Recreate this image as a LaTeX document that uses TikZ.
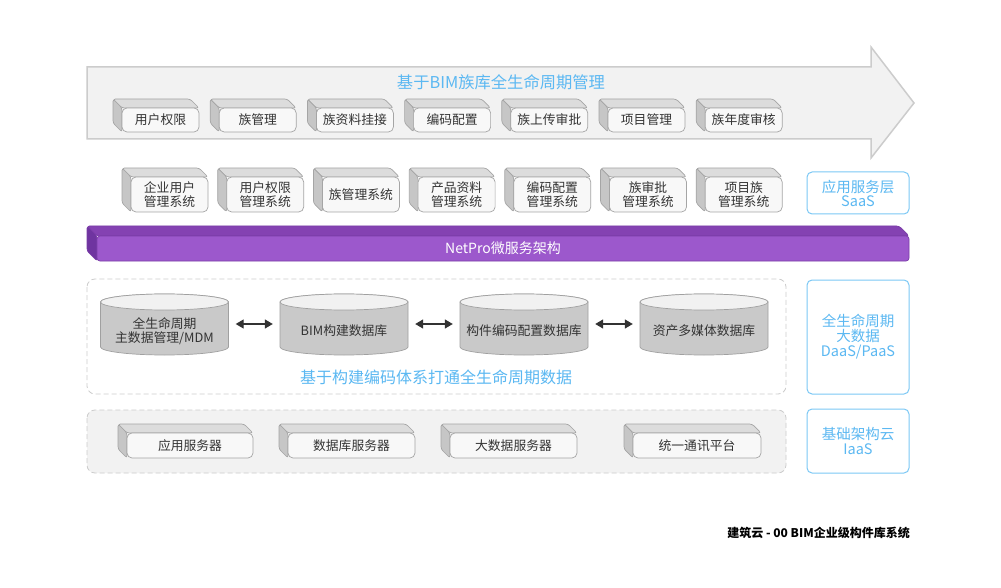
\documentclass[tikz,border=0pt]{standalone}
\usepackage{fontspec}
\setmainfont{Noto Sans CJK SC}
\usetikzlibrary{arrows.meta}
\definecolor{lblue}{HTML}{5BB8F2}
\definecolor{lborder}{HTML}{7CC8F5}
\definecolor{txtgray}{HTML}{333333}
\definecolor{edgegray}{HTML}{A5A5A5}
\definecolor{topgray}{HTML}{DCDCDC}
\definecolor{sidegray}{HTML}{C6C6C6}
\definecolor{frontgray}{HTML}{F8F8F8}
\definecolor{panelgray}{HTML}{F2F2F2}
\definecolor{panelline}{HTML}{CCCCCC}
\definecolor{purfront}{HTML}{9C58CC}
\definecolor{purtop}{HTML}{8442B2}
\definecolor{purside}{HTML}{6F34A0}
\definecolor{puredge}{HTML}{7A3DA8}
\definecolor{cylgray}{HTML}{C9C9C9}
\definecolor{cyltopc}{HTML}{F1F1F1}
\definecolor{cyledge}{HTML}{A0A0A0}
\newcommand{\cubebox}[7]{%
  \filldraw[topface] (#2-#6,#3-#6) -- (#4-#6,#3-#6) -- (#4,#3) -- (#2,#3) -- cycle;
  \filldraw[sideface] (#2-#6,#3-#6) -- (#2,#3) -- (#2,#5) -- (#2-#6,#5-#6) -- cycle;
  \node[frontbox, minimum width={(#4-#2)*1pt}, minimum height={(#5-#3)*1pt}] (#1) at ({(#2+#4)/2},{(#3+#5)/2}) {#7};
}
\newcommand{\dbcyl}[3]{%
  \filldraw[cylbody] (#2-64,302) -- (#2-64,347) arc[start angle=180,end angle=360,x radius=64pt,y radius=8pt] -- (#2+64,302) arc[start angle=0,end angle=180,x radius=64pt,y radius=8pt] -- cycle;
  \filldraw[cyltop] (#2,302) ellipse[x radius=64pt,y radius=8pt];
  \node[cyltext] (#1) at (#2,331) {#3};
}
\begin{document}
\begin{tikzpicture}[x=1pt,y=-1pt,
  topface/.style={fill=topgray, draw=edgegray, line width=0.7pt, rounded corners=2.5pt},
  sideface/.style={fill=sidegray, draw=edgegray, line width=0.7pt, rounded corners=2.5pt},
  frontbox/.style={fill=frontgray, draw=edgegray, line width=0.7pt, rounded corners=5pt, inner sep=0pt, align=center, text=txtgray, font=\fontsize{12.8}{14}\selectfont},
  cylbody/.style={fill=cylgray, draw=cyledge, line width=0.7pt},
  cyltop/.style={fill=cyltopc, draw=cyledge, line width=0.7pt},
  cyltext/.style={minimum width=128pt, inner sep=0pt, align=center, text=txtgray, font=\fontsize{12.8}{14}\selectfont},
  layerbox/.style={draw=lborder, line width=1pt, fill=white, rounded corners=5pt, align=center, text=lblue, inner sep=0pt},
  bluetext/.style={text=lblue, inner sep=0pt},
  dblarrow/.style={{Triangle[length=8pt,width=9pt]}-{Triangle[length=8pt,width=9pt]}, line width=1.3pt, draw=txtgray},
  panel/.style={draw=panelline, line width=0.8pt, dash pattern=on 5pt off 3pt, rounded corners=8pt}
]
\useasboundingbox[fill=white] (0,0) rectangle (1001,588);

% big arrow
\filldraw[fill=panelgray, draw=panelline, line width=1.5pt] (87,67) -- (871,67) -- (871,47) -- (914,103) -- (871,158) -- (871,139) -- (87,139) -- cycle;
\node[bluetext, font=\fontsize{16.3}{18}\selectfont] (title) at (501,82) {基于BIM族库全生命周期管理};

% row 1
\cubebox{a1}{122}{108}{199}{132}{9}{用户权限}
\cubebox{a2}{219.2}{108}{296.2}{132}{9}{族管理}
\cubebox{a3}{316.4}{108}{393.4}{132}{9}{族资料挂接}
\cubebox{a4}{413.6}{108}{490.6}{132}{9}{编码配置}
\cubebox{a5}{510.8}{108}{587.8}{132}{9}{族上传审批}
\cubebox{a6}{608}{108}{685}{132}{9}{项目管理}
\cubebox{a7}{705.2}{108}{782.2}{132}{9}{族年度审核}

% row 2
\cubebox{b1}{131}{177}{208}{212}{9}{企业用户\\管理系统}
\cubebox{b2}{226.7}{177}{303.7}{212}{9}{用户权限\\管理系统}
\cubebox{b3}{322.4}{177}{399.4}{212}{9}{族管理系统}
\cubebox{b4}{418.1}{177}{495.1}{212}{9}{产品资料\\管理系统}
\cubebox{b5}{513.8}{177}{590.8}{212}{9}{编码配置\\管理系统}
\cubebox{b6}{609.5}{177}{686.5}{212}{9}{族审批\\管理系统}
\cubebox{b7}{705.2}{177}{782.2}{212}{9}{项目族\\管理系统}
\node[layerbox, minimum width=102pt, minimum height=42pt, font=\fontsize{14.5}{14}\selectfont] (saas) at (858,193) {应用服务层\\SaaS};

% purple bar
\filldraw[fill=purtop, draw=puredge, line width=0.7pt, rounded corners=2.5pt] (87,226) -- (899,226) -- (909,236) -- (97,236) -- cycle;
\filldraw[fill=purside, draw=puredge, line width=0.7pt, rounded corners=2.5pt] (87,226) -- (97,236) -- (97,261) -- (87,251) -- cycle;
\node[fill=purfront, draw=puredge, line width=0.7pt, rounded corners=3pt, minimum width=812pt, minimum height=25pt, inner sep=0pt, text=white, font=\fontsize{14}{16}\selectfont] (bar) at (503,248.5) {NetPro微服务架构};

% data layer
\draw[panel, fill=white] (87,279) rectangle (786,394);
\dbcyl{c1}{164.5}{全生命周期\\主数据管理/MDM}
\dbcyl{c2}{344}{BIM构建数据库}
\dbcyl{c3}{524}{构件编码配置数据库}
\dbcyl{c4}{704}{资产多媒体数据库}
\draw[dblarrow] ([xshift=7pt,yshift=7pt]c1.east) -- ([xshift=-7pt,yshift=7pt]c2.west);
\draw[dblarrow] ([xshift=7pt,yshift=7pt]c2.east) -- ([xshift=-7pt,yshift=7pt]c3.west);
\draw[dblarrow] ([xshift=7pt,yshift=7pt]c3.east) -- ([xshift=-7pt,yshift=7pt]c4.west);
\node[bluetext, font=\fontsize{16}{18}\selectfont] (datacap) at (436,377) {基于构建编码体系打通全生命周期数据};
\node[layerbox, minimum width=102pt, minimum height=114pt, font=\fontsize{14.5}{15}\selectfont] (daas) at (858,337) {全生命周期\\大数据\\DaaS/PaaS};

% infra layer
\draw[panel, fill=panelgray] (87,410) rectangle (786,473);
\cubebox{d1}{127}{433}{253}{458}{9}{应用服务器}
\cubebox{d2}{288}{433}{415}{458}{9}{数据库服务器}
\cubebox{d3}{450}{433}{577}{458}{9}{大数据服务器}
\cubebox{d4}{633}{433}{761}{458}{9}{统一通讯平台}
\node[layerbox, minimum width=102pt, minimum height=64pt, font=\fontsize{14.5}{15}\selectfont] (iaas) at (858,441) {基础架构云\\IaaS};

% footer
\node[anchor=east, inner sep=0pt, font=\bfseries\fontsize{12}{14}\selectfont] (foot) at (910,533) {建筑云 - 00 BIM企业级构件库系统};
\end{tikzpicture}
\end{document}
